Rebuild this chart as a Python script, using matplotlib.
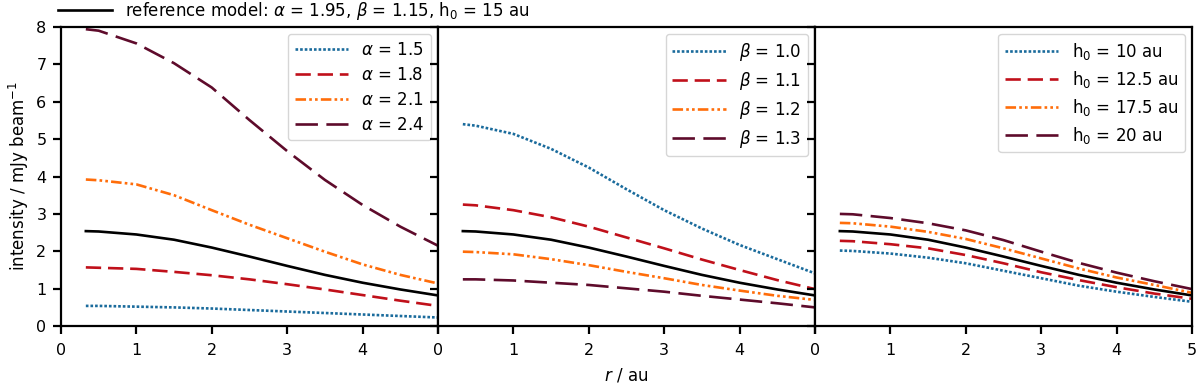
import matplotlib
matplotlib.use("Agg")
import matplotlib.pyplot as plt
from matplotlib.lines import Line2D

plt.rcParams['font.family'] = ['DejaVu Sans']
plt.rcParams['font.size'] = 12
plt.rcParams['mathtext.fontset'] = 'dejavusans'

# radius grid (au)
r = [0.33, 0.5, 1.0, 1.5, 2.0, 2.5, 3.0, 3.5, 4.0, 4.5, 5.0]

# reference model: alpha=1.95, beta=1.15, h0=15 au
ref = [2.54, 2.53, 2.45, 2.31, 2.10, 1.86, 1.61, 1.37, 1.16, 0.98, 0.82]

# panel 1: alpha variations
alpha_labels = [r'$\alpha$ = 1.5', r'$\alpha$ = 1.8', r'$\alpha$ = 2.1', r'$\alpha$ = 2.4']
alpha_15 = [0.54, 0.54, 0.52, 0.50, 0.47, 0.43, 0.39, 0.35, 0.31, 0.27, 0.23]
alpha_18 = [1.57, 1.56, 1.53, 1.45, 1.36, 1.25, 1.12, 0.98, 0.83, 0.68, 0.54]
alpha_21 = [3.92, 3.90, 3.79, 3.50, 3.10, 2.71, 2.35, 1.99, 1.65, 1.37, 1.14]
alpha_24 = [7.94, 7.90, 7.56, 7.03, 6.38, 5.51, 4.68, 3.91, 3.24, 2.66, 2.15]

# panel 2: beta variations
beta_labels = [r'$\beta$ = 1.0', r'$\beta$ = 1.1', r'$\beta$ = 1.2', r'$\beta$ = 1.3']
beta_10 = [5.40, 5.36, 5.14, 4.74, 4.24, 3.66, 3.10, 2.61, 2.17, 1.79, 1.41]
beta_11 = [3.25, 3.23, 3.10, 2.91, 2.66, 2.37, 2.08, 1.78, 1.50, 1.23, 0.99]
beta_12 = [1.99, 1.98, 1.92, 1.79, 1.63, 1.45, 1.28, 1.10, 0.95, 0.81, 0.70]
beta_13 = [1.25, 1.25, 1.22, 1.16, 1.10, 1.01, 0.92, 0.81, 0.71, 0.61, 0.50]

# panel 3: h0 variations
h0_labels = [r'h$_0$ = 10 au', r'h$_0$ = 12.5 au', r'h$_0$ = 17.5 au', r'h$_0$ = 20 au']
h0_10 = [2.02, 2.01, 1.94, 1.83, 1.68, 1.48, 1.28, 1.08, 0.92, 0.78, 0.65]
h0_125 = [2.28, 2.27, 2.19, 2.08, 1.90, 1.68, 1.44, 1.23, 1.04, 0.87, 0.73]
h0_175 = [2.76, 2.75, 2.66, 2.52, 2.33, 2.08, 1.81, 1.54, 1.30, 1.10, 0.89]
h0_20 = [3.00, 2.99, 2.89, 2.75, 2.56, 2.30, 1.99, 1.69, 1.43, 1.20, 0.99]

xticks = [0, 1, 2, 3, 4, 5]
yticks = [0, 1, 2, 3, 4, 5, 6, 7, 8]

colors = ['#1a6b9c', '#c0101a', '#ff6d0a', '#5e0b2b']
styles = [(0, (1, 0.75)), (0, (5.8, 2.6)), (0, (4, 1.2, 1, 1.2, 1, 1.2)), (0, (8.5, 3.2))]
lw = 1.9

fig, axes = plt.subplots(1, 3, figsize=(12, 3.85), dpi=100, sharey=True)
fig.subplots_adjust(left=0.0508, right=0.9933, bottom=0.153, top=0.93, wspace=0)

panels = [
    (alpha_labels, [alpha_15, alpha_18, alpha_21, alpha_24]),
    (beta_labels, [beta_10, beta_11, beta_12, beta_13]),
    (h0_labels, [h0_10, h0_125, h0_175, h0_20]),
]

for i, (ax, (labels, series)) in enumerate(zip(axes, panels)):
    ax.plot(r, ref, color='black', lw=lw, ls='-')
    handles = []
    for s, lab, c, st in zip(series, labels, colors, styles):
        h, = ax.plot(r, s, color=c, lw=lw, ls=st, label=lab)
        handles.append(h)
    ax.legend(handles=handles, loc='upper right', handlelength=3.2,
              fontsize=12, framealpha=0.8, borderaxespad=0.42,
              labelspacing=0.42)
    ax.set_xlim(0, 5)
    ax.set_ylim(0, 8)
    ax.set_xticks(xticks)
    if i < 2:
        ax.set_xticklabels([str(t) for t in xticks[:-1]] + [''])
    else:
        ax.set_xticklabels([str(t) for t in xticks])
    ax.set_yticks(yticks)
    for sp in ax.spines.values():
        sp.set_linewidth(1.6)
    ax.tick_params(width=1.6, length=5.5, labelsize=11.5)
    ax.tick_params(axis='x', pad=7)
    ax.tick_params(axis='y', pad=5)
    if i > 0:
        ax.tick_params(labelleft=False)

axes[0].set_ylabel(r'intensity / mJy beam$^{-1}$', labelpad=4)
axes[1].set_xlabel(r'$r$ / au', labelpad=6)

ref_handle = Line2D([], [], color='black', lw=lw, ls='-')
fig.legend(handles=[ref_handle],
           labels=[r'reference model: $\alpha$ = 1.95, $\beta$ = 1.15, h$_0$ = 15 au'],
           loc='center left', bbox_to_anchor=(0.036, 0.972), frameon=False,
           handlelength=3.2, fontsize=12)

fig.savefig('out.png', dpi=100)
